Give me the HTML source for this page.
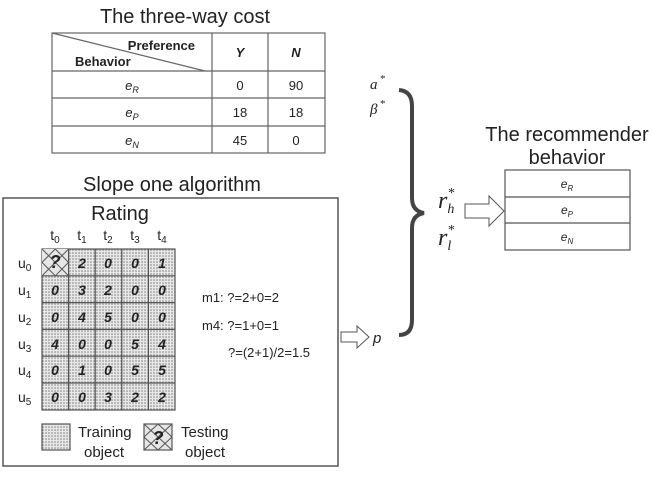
<!DOCTYPE html>
<html><head><meta charset="utf-8"><style>
body{margin:0;background:#fff;}
svg text{font-family:"Liberation Sans",sans-serif;fill:#222;}
svg text.serif{font-family:"Liberation Serif",serif;}
</style></head><body>
<svg width="652" height="473" viewBox="0 0 652 473" xmlns="http://www.w3.org/2000/svg">
<defs>
<pattern id="dots" width="3" height="3" patternUnits="userSpaceOnUse">
<rect width="3" height="3" fill="#e8e8e8"/><circle cx="1" cy="1" r="0.75" fill="#777"/>
</pattern>
</defs>
<text x="185" y="23" font-size="20" text-anchor="middle">The three-way cost</text>
<g stroke="#666" stroke-width="1.2" fill="none">
<rect x="52" y="33" width="273" height="120"/>
<line x1="212" y1="33" x2="212" y2="153"/>
<line x1="268" y1="33" x2="268" y2="153"/>
<line x1="52" y1="71" x2="325" y2="71"/>
<line x1="52" y1="98" x2="325" y2="98"/>
<line x1="52" y1="126" x2="325" y2="126"/>
<line x1="52" y1="33" x2="205" y2="71"/>
</g>
<text x="195" y="50" font-size="13" font-weight="bold" text-anchor="end">Preference</text>
<text x="75" y="66" font-size="13" font-weight="bold">Behavior</text>
<text x="240" y="57" font-size="13" font-weight="bold" font-style="italic" text-anchor="middle">Y</text>
<text x="296" y="57" font-size="13" font-weight="bold" font-style="italic" text-anchor="middle">N</text>
<g font-size="13" text-anchor="middle">
<text x="132" y="90" font-style="italic">e<tspan font-size="9" dy="3">R</tspan></text>
<text x="132" y="117" font-style="italic">e<tspan font-size="9" dy="3">P</tspan></text>
<text x="132" y="145" font-style="italic">e<tspan font-size="9" dy="3">N</tspan></text>
<text x="240" y="90">0</text><text x="296" y="90">90</text>
<text x="240" y="117">18</text><text x="296" y="117">18</text>
<text x="240" y="145">45</text><text x="296" y="145">0</text>
</g>
<text x="172" y="191" font-size="20" text-anchor="middle">Slope one algorithm</text>
<rect x="3" y="198" width="335" height="268" fill="none" stroke="#555" stroke-width="1.5"/>
<text x="120" y="220" font-size="20" text-anchor="middle">Rating</text>
<g font-size="14" text-anchor="middle">
<text x="55" y="240">t<tspan font-size="10" dy="3">0</tspan></text>
<text x="82" y="240">t<tspan font-size="10" dy="3">1</tspan></text>
<text x="108" y="240">t<tspan font-size="10" dy="3">2</tspan></text>
<text x="135" y="240">t<tspan font-size="10" dy="3">3</tspan></text>
<text x="162" y="240">t<tspan font-size="10" dy="3">4</tspan></text>
</g>
<g font-size="14">
<text x="18" y="268">u<tspan font-size="10" dy="3">0</tspan></text>
<text x="18" y="295">u<tspan font-size="10" dy="3">1</tspan></text>
<text x="18" y="322">u<tspan font-size="10" dy="3">2</tspan></text>
<text x="18" y="349">u<tspan font-size="10" dy="3">3</tspan></text>
<text x="18" y="375">u<tspan font-size="10" dy="3">4</tspan></text>
<text x="18" y="402">u<tspan font-size="10" dy="3">5</tspan></text>
</g>
<rect x="42" y="249" width="133" height="161" fill="url(#dots)" stroke="#555" stroke-width="1.2"/>
<rect x="42" y="249" width="26.6" height="26.8" fill="#e6e6e6"/>
<g stroke="#555" stroke-width="1">
<line x1="42" y1="249" x2="68.6" y2="275.8"/><line x1="68.6" y1="249" x2="42" y2="275.8"/>
<line x1="55.3" y1="249" x2="68.6" y2="262.4"/><line x1="42" y1="262.4" x2="55.3" y2="275.8"/>
<line x1="55.3" y1="249" x2="42" y2="262.4"/><line x1="68.6" y1="262.4" x2="55.3" y2="275.8"/>
</g>
<g stroke="#555" stroke-width="1.2">
<line x1="68.6" y1="249" x2="68.6" y2="410"/><line x1="95.2" y1="249" x2="95.2" y2="410"/>
<line x1="121.8" y1="249" x2="121.8" y2="410"/><line x1="148.4" y1="249" x2="148.4" y2="410"/>
<line x1="42" y1="275.8" x2="175" y2="275.8"/><line x1="42" y1="302.6" x2="175" y2="302.6"/>
<line x1="42" y1="329.4" x2="175" y2="329.4"/><line x1="42" y1="356.2" x2="175" y2="356.2"/>
<line x1="42" y1="383" x2="175" y2="383"/>
</g>
<g font-size="14" font-weight="bold" font-style="italic" text-anchor="middle">
<text x="55" y="268" font-size="18">?</text><text x="82" y="268">2</text><text x="108" y="268">0</text><text x="135" y="268">0</text><text x="162" y="268">1</text>
<text x="55" y="295">0</text><text x="82" y="295">3</text><text x="108" y="295">2</text><text x="135" y="295">0</text><text x="162" y="295">0</text>
<text x="55" y="322">0</text><text x="82" y="322">4</text><text x="108" y="322">5</text><text x="135" y="322">0</text><text x="162" y="322">0</text>
<text x="55" y="349">4</text><text x="82" y="349">0</text><text x="108" y="349">0</text><text x="135" y="349">5</text><text x="162" y="349">4</text>
<text x="55" y="375">0</text><text x="82" y="375">1</text><text x="108" y="375">0</text><text x="135" y="375">5</text><text x="162" y="375">5</text>
<text x="55" y="402">0</text><text x="82" y="402">0</text><text x="108" y="402">3</text><text x="135" y="402">2</text><text x="162" y="402">2</text>
</g>
<g font-size="13">
<text x="202" y="302">m1: ?=2+0=2</text>
<text x="202" y="330">m4: ?=1+0=1</text>
<text x="228" y="357">?=(2+1)/2=1.5</text>
</g>
<rect x="42" y="424" width="28" height="26" fill="url(#dots)" stroke="#555" stroke-width="1.2"/>
<rect x="144" y="424" width="28" height="26" fill="#e6e6e6" stroke="#555" stroke-width="1.2"/>
<g stroke="#555" stroke-width="1">
<line x1="144" y1="424" x2="172" y2="450"/><line x1="172" y1="424" x2="144" y2="450"/>
<line x1="158" y1="424" x2="172" y2="437"/><line x1="144" y1="437" x2="158" y2="450"/>
<line x1="158" y1="424" x2="144" y2="437"/><line x1="172" y1="437" x2="158" y2="450"/>
</g>
<text x="158" y="444" font-size="18" font-weight="bold" font-style="italic" text-anchor="middle">?</text>
<g font-size="15">
<text x="78" y="437">Training</text><text x="84" y="457">object</text>
<text x="181" y="437">Testing</text><text x="185" y="457">object</text>
</g>
<path d="M341,332 H357 V326 L369,337 L357,348 V342 H341 Z" fill="#fff" stroke="#555" stroke-width="1"/>
<text x="373" y="343" font-size="15" font-style="italic">p</text>
<text class="serif" x="370" y="89" font-size="15" font-style="italic">a<tspan font-size="11" dx="2" dy="-7">*</tspan></text>
<text class="serif" x="370" y="114" font-size="15" font-style="italic">β<tspan font-size="11" dx="2" dy="-7">*</tspan></text>
<path d="M399,90 Q412,91 412,106 V198 Q412,211 424,213 Q412,215 412,228 V320 Q412,335 399,335" fill="none" stroke="#444" stroke-width="4"/>
<text class="serif" x="438" y="208" font-size="24" font-style="italic">r<tspan font-size="14" dy="5">h</tspan><tspan font-size="14" dx="-7" dy="-16">*</tspan></text>
<text class="serif" x="438" y="245" font-size="24" font-style="italic">r<tspan font-size="14" dy="5">l</tspan><tspan font-size="14" dx="-4" dy="-16">*</tspan></text>
<path d="M465,204 H489 V196 L504,211 L489,226 V218 H465 Z" fill="#fff" stroke="#555" stroke-width="1"/>
<text x="567" y="141" font-size="20" text-anchor="middle">The recommender</text>
<text x="567" y="164" font-size="20" text-anchor="middle">behavior</text>
<g stroke="#555" stroke-width="1.2" fill="none">
<rect x="505" y="170" width="125" height="80"/>
<line x1="505" y1="197" x2="630" y2="197"/><line x1="505" y1="223" x2="630" y2="223"/>
</g>
<g font-size="12" font-style="italic" text-anchor="middle">
<text x="567" y="188">e<tspan font-size="8" dy="3">R</tspan></text>
<text x="567" y="214">e<tspan font-size="8" dy="3">P</tspan></text>
<text x="567" y="241">e<tspan font-size="8" dy="3">N</tspan></text>
</g>
</svg>
</body></html>
